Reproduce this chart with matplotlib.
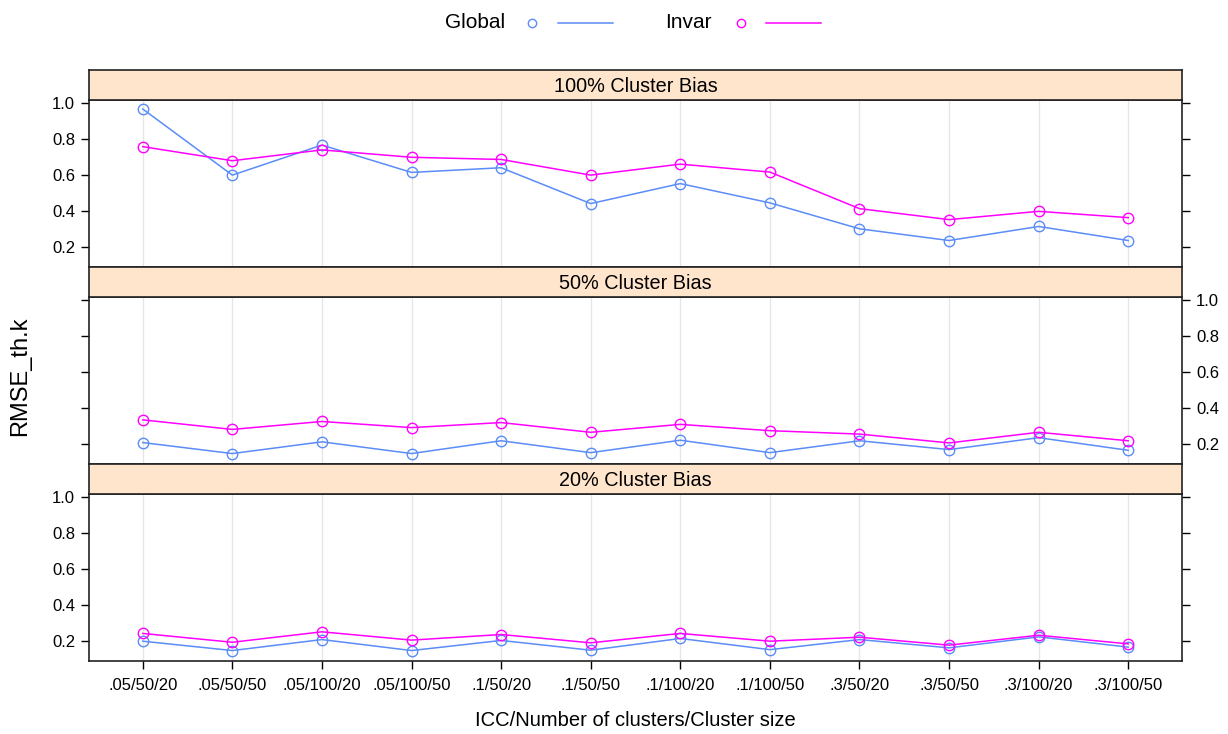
import matplotlib
matplotlib.use('Agg')
import matplotlib.pyplot as plt
from matplotlib.lines import Line2D
import numpy as np

plt.rcParams['font.family'] = ['Liberation Sans', 'DejaVu Sans']

conditions = ['.05/50/20', '.05/50/50', '.05/100/20', '.05/100/50', '.1/50/20', '.1/50/50',
              '.1/100/20', '.1/100/50', '.3/50/20', '.3/50/50', '.3/100/20', '.3/100/50']
panels = ['100% Cluster Bias', '50% Cluster Bias', '20% Cluster Bias']

# RMSE_th.k
global_100 = [0.967, 0.600, 0.767, 0.615, 0.641, 0.442, 0.553, 0.446, 0.302, 0.237, 0.315, 0.237]
invar_100 = [0.758, 0.680, 0.740, 0.699, 0.687, 0.600, 0.661, 0.617, 0.414, 0.353, 0.399, 0.364]
global_50 = [0.209, 0.148, 0.213, 0.148, 0.219, 0.153, 0.222, 0.153, 0.219, 0.170, 0.236, 0.166]
invar_50 = [0.335, 0.282, 0.326, 0.292, 0.320, 0.266, 0.310, 0.275, 0.256, 0.207, 0.266, 0.219]
global_20 = [0.200, 0.148, 0.209, 0.148, 0.204, 0.150, 0.215, 0.153, 0.209, 0.163, 0.224, 0.167]
invar_20 = [0.243, 0.194, 0.252, 0.206, 0.237, 0.191, 0.243, 0.200, 0.222, 0.178, 0.233, 0.185]

series = [(global_100, invar_100), (global_50, invar_50), (global_20, invar_20)]

col_global = '#5b8cf7'
col_invar = '#ff00ff'
strip_col = '#ffe5cc'

W, H = 1228, 734
fig = plt.figure(figsize=(W / 100, H / 100), dpi=100)

x = np.arange(1, len(conditions) + 1)
left, right = 89, 1182
tops = [100, 297, 494]
ph = 167
sh = 30

for i, (name, (g, v)) in enumerate(zip(panels, series)):
    top = tops[i]
    ax = fig.add_axes([left / W, (H - top - ph) / H, (right - left) / W, ph / H])
    ax.plot(x, g, '-o', color=col_global, lw=1.1, ms=7.5, mfc='none', mew=1.0)
    ax.plot(x, v, '-o', color=col_invar, lw=1.1, ms=7.5, mfc='none', mew=1.0)
    ax.set_xlim(0.4, 12.6)
    ax.set_ylim(0.09, 1.017)
    ax.set_yticks([0.2, 0.4, 0.6, 0.8, 1.0])
    ax.set_yticklabels(['0.2', '0.4', '0.6', '0.8', '1.0'])
    ax.set_xticks(x)
    ax.grid(axis='x', color='#e6e6e6', lw=1)
    ax.set_axisbelow(True)
    for s in ax.spines.values():
        s.set_linewidth(1.2)
        s.set_color('#222222')
    ax.tick_params(axis='y', direction='out', length=6, width=1, labelsize=12,
                   left=True, right=True, labelleft=(i != 1), labelright=(i == 1), pad=4)
    if i == 2:
        ax.set_xticklabels(conditions)
        ax.tick_params(axis='x', direction='out', length=6, width=1, labelsize=12, pad=6)
    else:
        ax.tick_params(axis='x', bottom=False, labelbottom=False)

    sax = fig.add_axes([left / W, (H - top) / H, (right - left) / W, sh / H])
    sax.set_facecolor(strip_col)
    sax.set_xticks([])
    sax.set_yticks([])
    for s in sax.spines.values():
        s.set_linewidth(1.2)
        s.set_color('#222222')
    sax.text(0.5, 0.45, name, ha='center', va='center', fontsize=14.3, transform=sax.transAxes)

fig.text(20 / W, 1 - 376 / H, 'RMSE_th.k', rotation=90, ha='center', va='center', fontsize=17)
fig.text(635 / W, 1 - 720 / H, 'ICC/Number of clusters/Cluster size', ha='center', va='center', fontsize=14.5)

# legend on top
ly = 1 - 23 / H
fig.text(505 / W, ly, 'Global', ha='right', va='center', fontsize=15)
fig.text(712 / W, ly, 'Invar', ha='right', va='center', fontsize=15)
for cx, x0, x1, c in [(532, 558, 613, col_global), (741, 766, 821, col_invar)]:
    fig.add_artist(Line2D([cx / W], [ly], marker='o', ms=6, mfc='none', mec=c, mew=1.0,
                          transform=fig.transFigure))
    fig.add_artist(Line2D([x0 / W, x1 / W], [ly, ly], color=c, lw=1.1, transform=fig.transFigure))

fig.savefig('out.png', dpi=100)
